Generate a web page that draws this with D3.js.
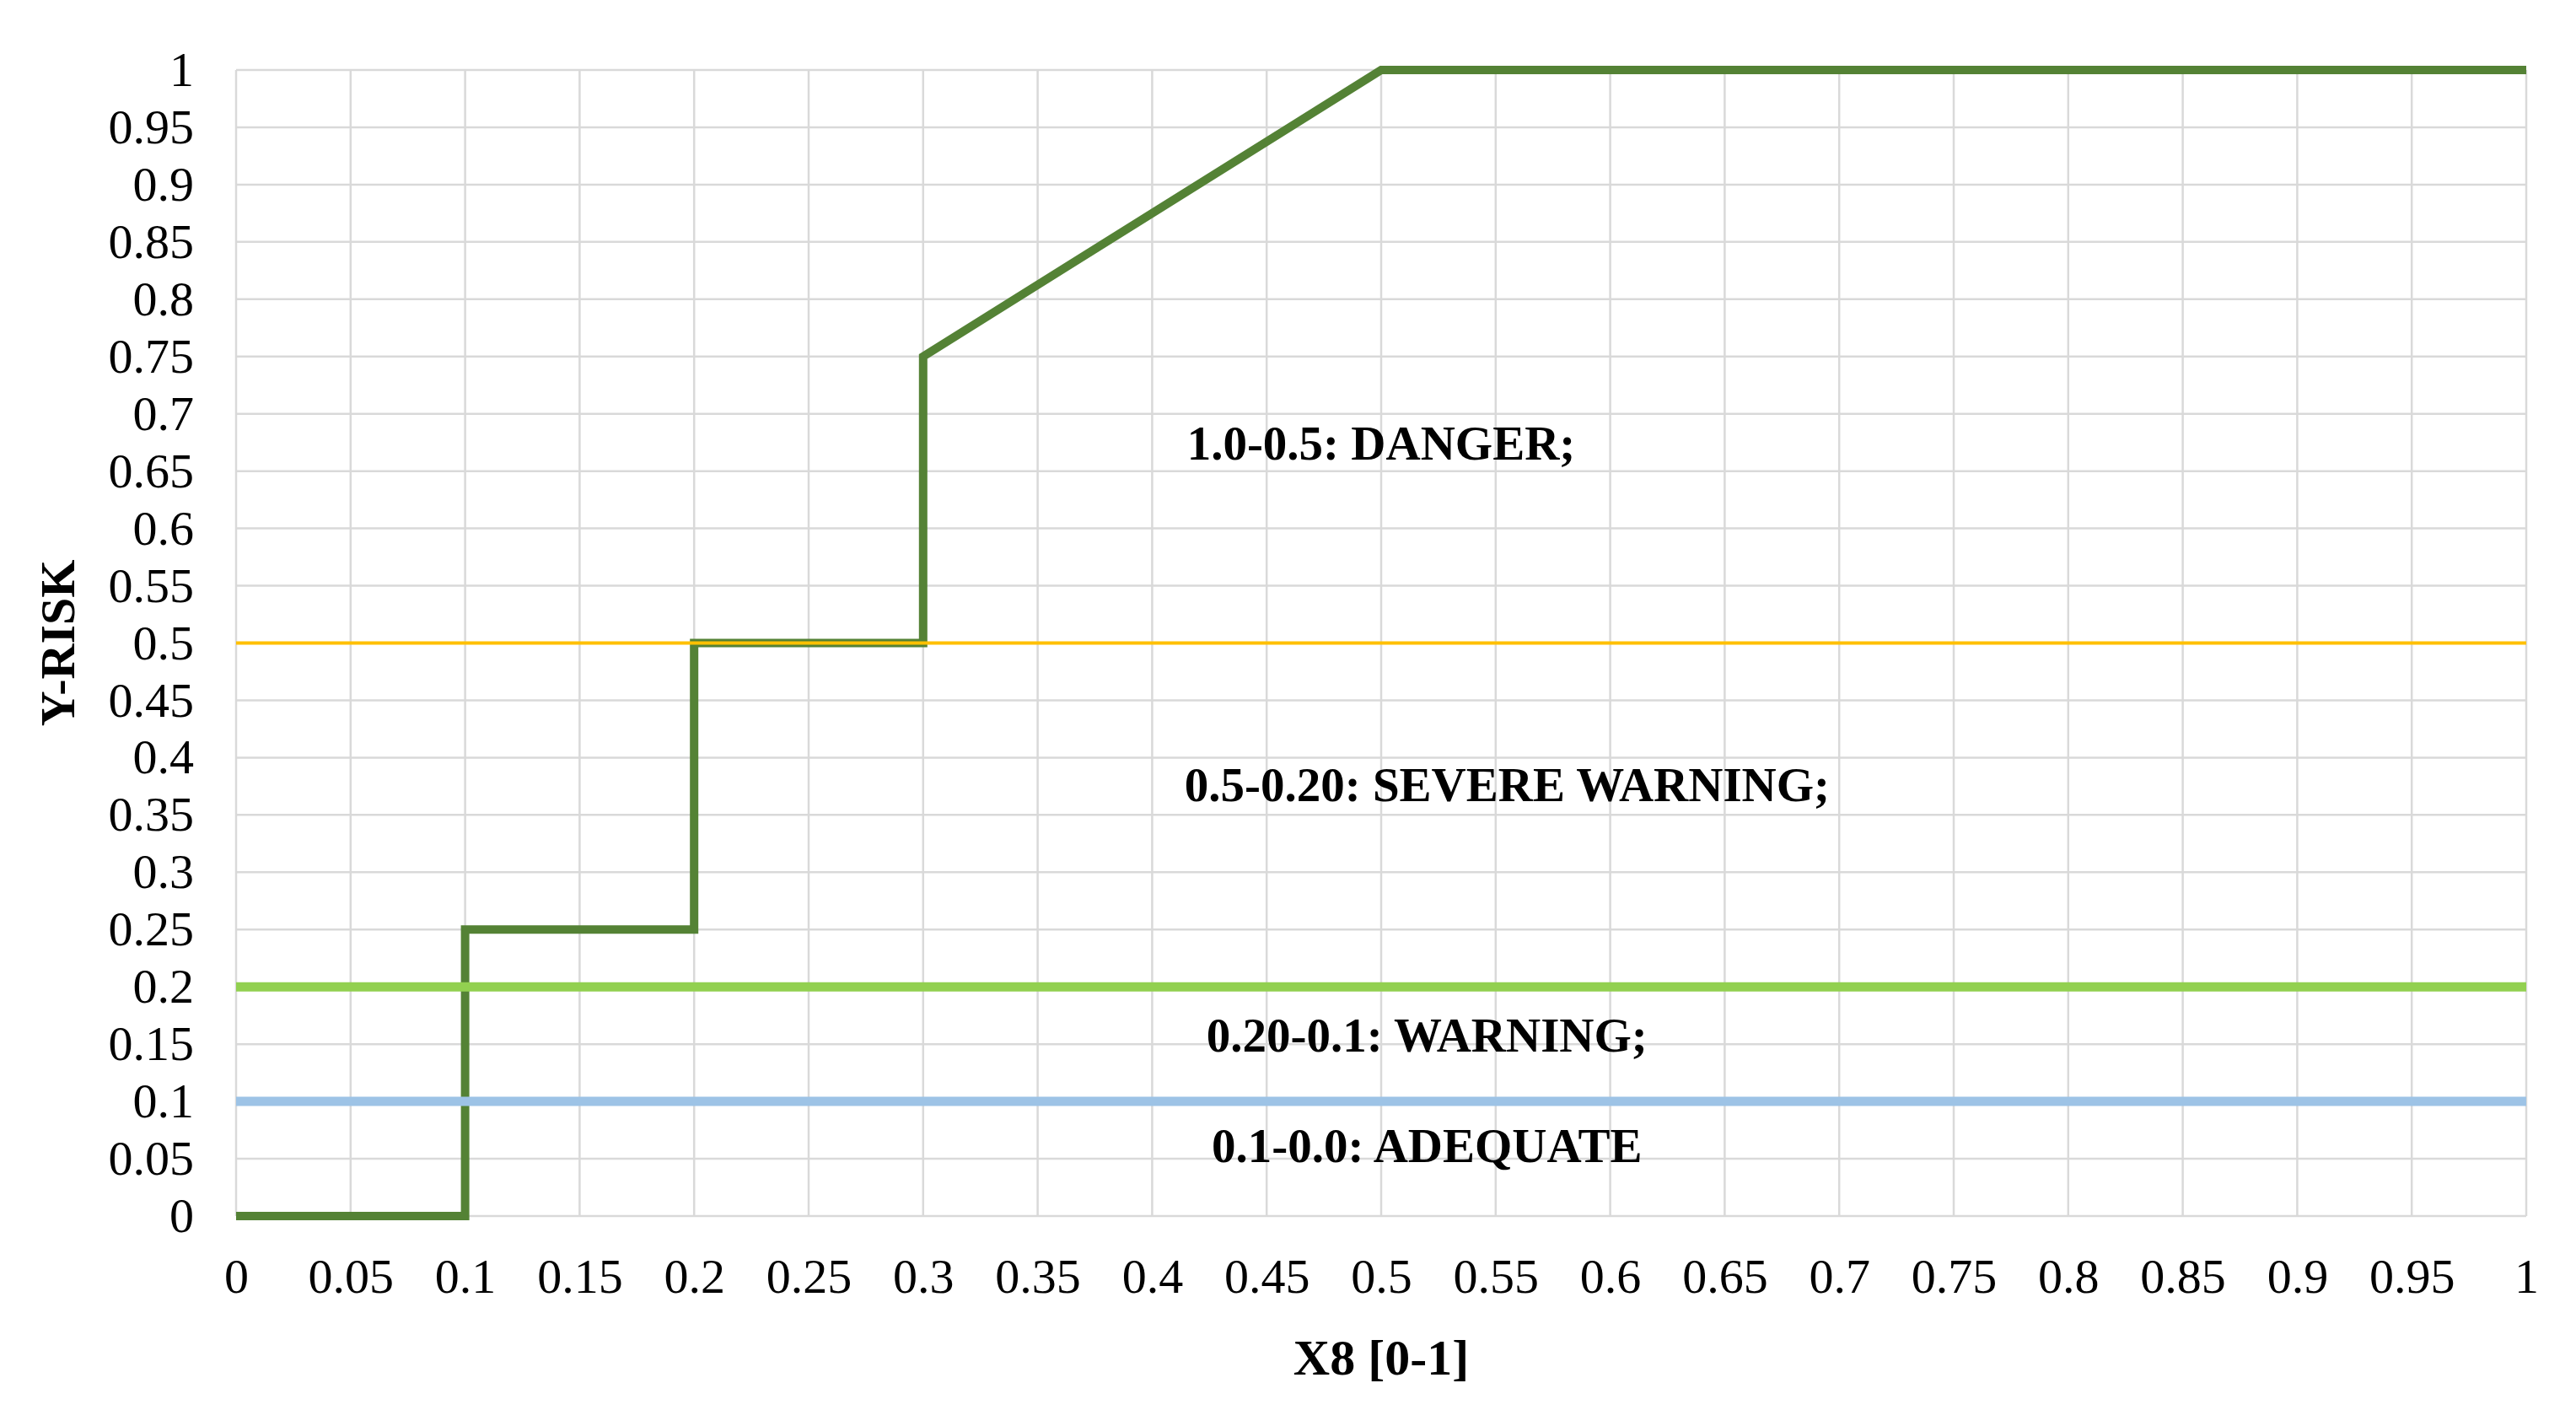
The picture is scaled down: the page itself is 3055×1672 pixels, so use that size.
<!DOCTYPE html><html><head><meta charset="utf-8"><script src="https://cdn.jsdelivr.net/npm/d3@7"></script>
<style>body{margin:0;background:#fff}text{font-family:"Liberation Serif","Times New Roman",serif}</style></head><body>
<svg id="c" width="3055" height="1672"></svg>
<script>
const stepX=[0,0.1,0.1,0.2,0.2,0.3,0.3,0.5,1];
const stepY=[0,0,0.25,0.25,0.5,0.5,0.75,1,1];
const thresholds=[0.5,0.2,0.1];
const thresholdColors=["#FFC000","#92D050","#9DC3E6"];
const thresholdWidths=[4,11,11];
const labels=["1.0-0.5: DANGER;","0.5-0.20: SEVERE WARNING;","0.20-0.1: WARNING;","0.1-0.0: ADEQUATE"];
const labelX=[0.5,0.555,0.52,0.52];
const labelY=[0.67,0.372,0.153,0.057];
const ticks=d3.range(0,21).map(i=>+(i*0.05).toFixed(2));
const L=280,R=2996,T=83,B=1442;
const svg=d3.select("#c");
const x=d3.scaleLinear().domain([0,1]).range([L,R]);
const y=d3.scaleLinear().domain([0,1]).range([B,T]);
const g=svg.append("g");
g.selectAll(".vx").data(ticks).join("line").attr("x1",d=>x(d)).attr("x2",d=>x(d)).attr("y1",T).attr("y2",B).attr("stroke","#d9d9d9").attr("stroke-width",2.5);
g.selectAll(".hy").data(ticks).join("line").attr("y1",d=>y(d)).attr("y2",d=>y(d)).attr("x1",L).attr("x2",R).attr("stroke","#d9d9d9").attr("stroke-width",2.5);
const ax=svg.append("g").attr("transform",`translate(0,${B})`).call(d3.axisBottom(x).tickValues(ticks).tickFormat(d=>String(d)).tickSize(0).tickPadding(50));
const ay=svg.append("g").attr("transform",`translate(${L},0)`).call(d3.axisLeft(y).tickValues(ticks).tickFormat(d=>String(d)).tickSize(0).tickPadding(50));
[ax,ay].forEach(a=>{a.select(".domain").remove();a.selectAll("text").attr("font-size",58).attr("fill","#000").style("font-family","Liberation Serif");});
const pts=stepX.map((v,i)=>[v,stepY[i]]);
svg.append("path").attr("d",d3.line().x(d=>x(d[0])).y(d=>y(d[1]))(pts)).attr("fill","none").attr("stroke","#548235").attr("stroke-width",10);
svg.selectAll(".th").data(thresholds).join("line").attr("x1",L).attr("x2",R).attr("y1",d=>y(d)).attr("y2",d=>y(d)).attr("stroke",(d,i)=>thresholdColors[i]).attr("stroke-width",(d,i)=>thresholdWidths[i]);
svg.selectAll(".lb").data(labels).join("text").attr("x",(d,i)=>x(labelX[i])).attr("y",(d,i)=>y(labelY[i])).attr("text-anchor","middle").attr("dominant-baseline","middle").attr("font-weight","bold").attr("font-size",57).text(d=>d);
svg.append("text").attr("x",x(0.5)).attr("y",1630).attr("text-anchor","middle").attr("font-weight","bold").attr("font-size",60).text("X8 [0-1]");
svg.append("text").attr("transform",`translate(88,${(T+B)/2}) rotate(-90)`).attr("text-anchor","middle").attr("font-weight","bold").attr("font-size",58).text("Y-RISK");
</script></body></html>
